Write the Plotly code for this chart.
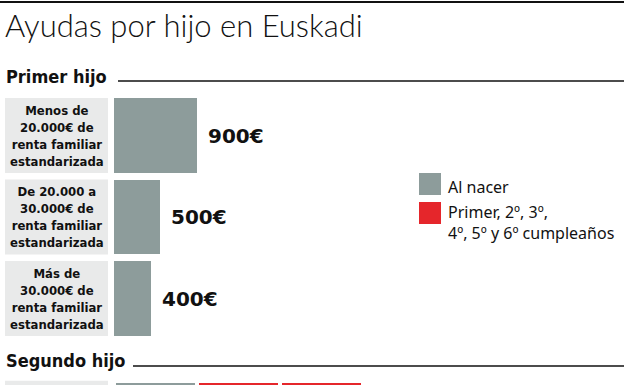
import plotly.graph_objects as go

# ---------------- data ----------------
title = "Ayudas por hijo en Euskadi"
section_titles = ["Primer hijo", "Segundo hijo"]
row_labels = [
    "Menos de<br>20.000€ de<br>renta familiar<br>estandarizada",
    "De 20.000 a<br>30.000€ de<br>renta familiar<br>estandarizada",
    "Más de<br>30.000€ de<br>renta familiar<br>estandarizada",
    "",
]
row_section = [0, 0, 0, 1]
al_nacer = [900, 500, 400, 900]
cumple_1 = [None, None, None, 900]
cumple_2 = [None, None, None, 900]
value_labels = ["900€", "500€", "400€", None]
legend_names = ["Al nacer", "Primer, 2º, 3º,<br>4º, 5º y 6º cumpleaños"]

GRAY = "#8d9c9b"
RED = "#e5262b"
BOX = "#e9eaea"
INK = "#111111"
COND = "DejaVu Sans Condensed, Liberation Sans Narrow, Roboto, sans-serif"

W, H = 624, 385
PX_PER_EUR = 0.0922
X0_PX = 114
ROW_PX = 81.5
ROW0_CENTER_PX = 135.5
SECTION_GAP = 0.47

# row positions in y-units
ypos = [i + SECTION_GAP * s for i, s in enumerate(row_section)]
y_top = -ROW0_CENTER_PX / ROW_PX
y_bot = y_top + H / ROW_PX
BAR_W = 0.91

fig = go.Figure()
fig.add_trace(go.Bar(
    y=ypos, x=al_nacer, orientation="h", width=BAR_W, name=legend_names[0],
    marker=dict(color=GRAY, line=dict(color="white", width=[0, 0, 0, 4])),
    showlegend=False, hoverinfo="skip"))
for vals in (cumple_1, cumple_2):
    fig.add_trace(go.Bar(
        y=ypos, x=vals, orientation="h", width=BAR_W, name=legend_names[1],
        marker=dict(color=RED, line=dict(color="white", width=4)),
        showlegend=False, hoverinfo="skip"))

shapes = []
annotations = []

def py(px):
    return 1 - px / H

def pxx(px):
    return px / W

# top rule
shapes.append(dict(type="line", xref="paper", yref="paper", x0=0, x1=1,
                   y0=py(2), y1=py(2), line=dict(color=INK, width=2)))
# title
annotations.append(dict(text=title, xref="paper", yref="paper", x=pxx(3), y=py(25),
                        xanchor="left", yanchor="middle", showarrow=False,
                        font=dict(family="Lato", size=31, color=INK, weight=300)))

# section headers
sec_center_px = [77, 360]
sec_line_x0 = [118, 133]
sec_line_y = [81, 366]
for t, cy, lx, ly in zip(section_titles, sec_center_px, sec_line_x0, sec_line_y):
    annotations.append(dict(text=t, xref="paper", yref="paper", x=pxx(4), y=py(cy),
                            xanchor="left", yanchor="middle", showarrow=False,
                            font=dict(family=COND, size=18, color=INK, weight="bold")))
    shapes.append(dict(type="line", xref="paper", yref="paper", x0=pxx(lx), x1=1,
                       y0=py(ly), y1=py(ly), line=dict(color=INK, width=1.5)))

# label boxes & texts
for lab, yp in zip(row_labels, ypos):
    shapes.append(dict(type="rect", xref="paper", yref="y", x0=pxx(5), x1=pxx(108),
                       y0=yp - BAR_W / 2 - 0.005, y1=yp + BAR_W / 2 + 0.005,
                       fillcolor=BOX, line=dict(width=0), layer="below"))
    if lab:
        annotations.append(dict(text=lab, xref="paper", yref="y", x=pxx(56.5), y=yp,
                                xanchor="center", yanchor="middle", showarrow=False,
                                align="center",
                                font=dict(family=COND, size=13, color=INK, weight="bold")))

# value labels
for v, lab, yp in zip(al_nacer, value_labels, ypos):
    if lab:
        annotations.append(dict(text=lab, x=v, y=yp, xref="x", yref="y",
                                xanchor="left", yanchor="middle", xshift=9,
                                showarrow=False,
                                font=dict(family="DejaVu Sans", size=20, color=INK,
                                          weight="bold")))

# legend
leg_colors = [GRAY, RED]
leg_top_px = [173, 202]
leg_text_px = [187, 222]
for name, col, tp, ty in zip(legend_names, leg_colors, leg_top_px, leg_text_px):
    shapes.append(dict(type="rect", xref="paper", yref="paper", x0=pxx(419), x1=pxx(441),
                       y0=py(tp), y1=py(tp + 22), fillcolor=col, line=dict(width=0)))
    annotations.append(dict(text=name, xref="paper", yref="paper", x=pxx(446), y=py(ty),
                            xanchor="left", yanchor="middle", align="left",
                            showarrow=False,
                            font=dict(family="Noto Sans", size=16, color=INK)))

fig.update_layout(
    width=W, height=H, margin=dict(l=0, r=0, t=0, b=0),
    paper_bgcolor="white", plot_bgcolor="white",
    barmode="stack", bargap=0,
    xaxis=dict(range=[-X0_PX / PX_PER_EUR, (W - X0_PX) / PX_PER_EUR], visible=False,
               fixedrange=True),
    yaxis=dict(range=[y_bot, y_top], visible=False, fixedrange=True),
    shapes=shapes, annotations=annotations, showlegend=False,
)

fig.write_html("out.html", config={"staticPlot": True},
               post_script="document.body.style.margin='0';document.body.style.overflow='hidden';")
